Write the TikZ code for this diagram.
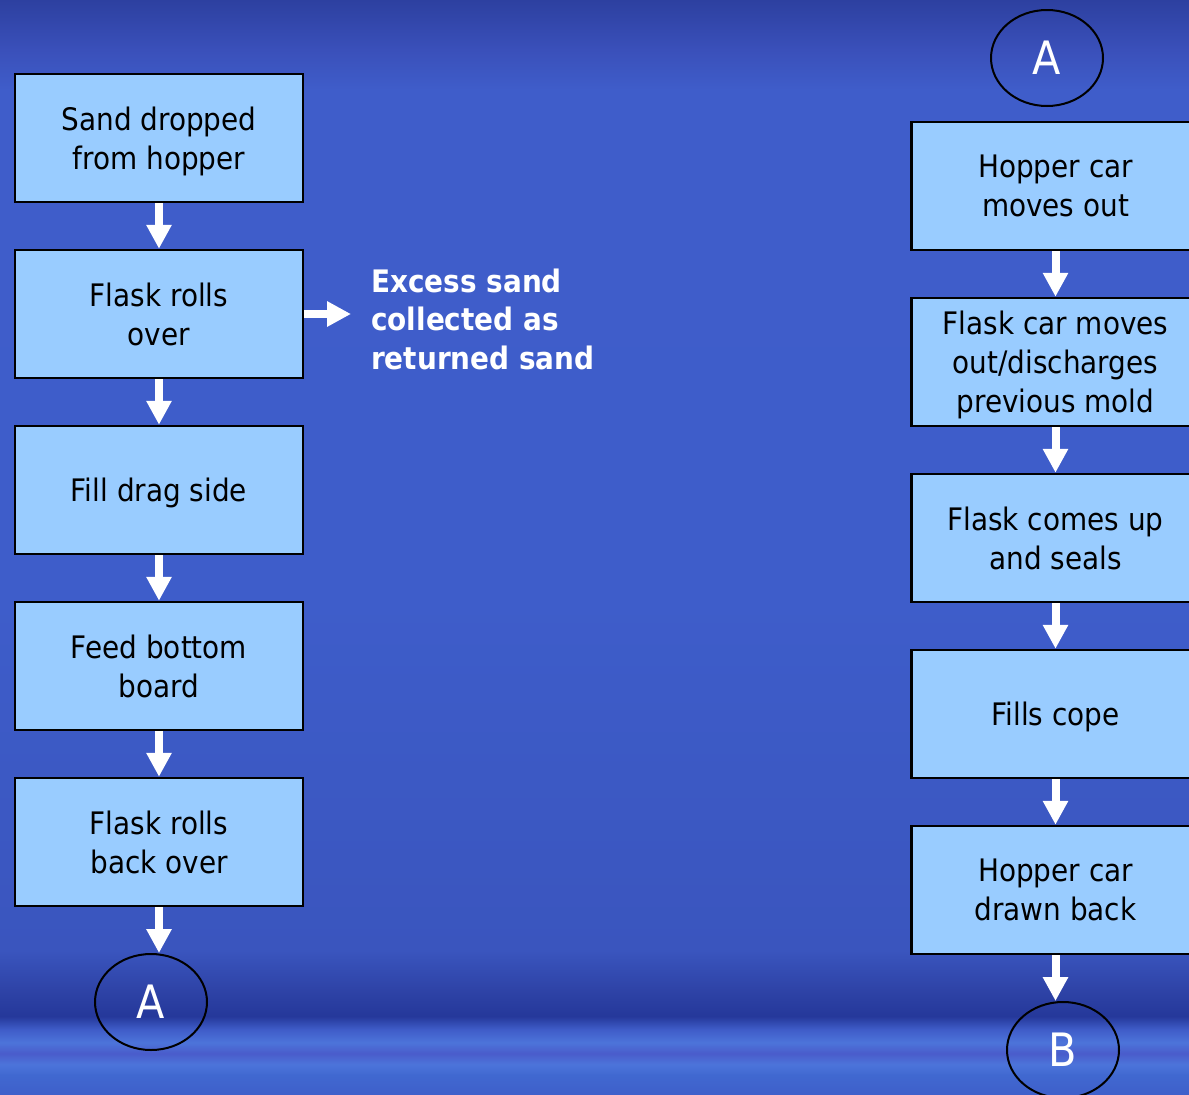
\documentclass[tikz,border=0pt]{standalone}
\usepackage{fontspec}
\setmainfont{DejaVu Sans}[FakeStretch=0.9]
\usetikzlibrary{arrows.meta,shapes.geometric}

\definecolor{boxfill}{HTML}{99CCFF}
% background tones
\definecolor{bgA}{HTML}{3F5FCA}
\definecolor{bgB}{HTML}{4068D0}
\definecolor{bgC}{HTML}{4C74DA}
\definecolor{bgD}{HTML}{4A5CCB}
\definecolor{bgE}{HTML}{3F5CC8}
\definecolor{bgF}{HTML}{25389A}
\definecolor{bgG}{HTML}{2F44A8}
\definecolor{bgH}{HTML}{3A55BE}
\definecolor{bgI}{HTML}{3E5DCA}
\definecolor{bgJ}{HTML}{3F5DCA}
\definecolor{bgK}{HTML}{3A50BA}
\definecolor{bgL}{HTML}{2D40A0}

% background: blue slide gradient, darker at the top, streaked near the bottom
% (the picture's full height maps onto 25bp..75bp of the shading)
\pgfdeclareverticalshading{slidebg}{100bp}{%
  color(0bp)=(bgA);
  color(25bp)=(bgA);
  color(25.9bp)=(bgB);
  color(26.4bp)=(bgC);
  color(26.9bp)=(bgD);
  color(27.4bp)=(bgC);
  color(28.0bp)=(bgE);
  color(28.6bp)=(bgF);
  color(29.9bp)=(bgG);
  color(31.6bp)=(bgH);
  color(47.60bp)=(bgI);
  color(70.89bp)=(bgJ);
  color(72.72bp)=(bgK);
  color(75bp)=(bgL);
  color(100bp)=(bgL)}

\tikzset{
  stepbox/.style={draw=black, line width=2.5pt, fill=boxfill,
    minimum width=288pt, minimum height=128pt, inner sep=0pt,
    align=center, font=\fontsize{31}{39}\selectfont, text=black,
    text depth=0pt},
  tag/.style={ellipse, draw=black, line width=2pt,
    minimum width=112pt, minimum height=96pt, inner sep=0pt,
    text=white, font=\fontsize{46}{46}\selectfont},
  flow/.style={white, line width=8pt,
    -{Triangle[width=24pt,length=24pt]}},
  note/.style={text=white, align=left, inner sep=0pt,
    font=\fontsize{31}{38.5}\selectfont\bfseries}
}

\begin{document}
\begin{tikzpicture}[x=1pt,y=-1pt]
  \clip (0,0) rectangle (1189,1095);
  \shade[shading=slidebg] (0,0) rectangle (1189,1095);

  % left column
  \node[stepbox] (s1) at (159,138) {Sand dropped\\from hopper};
  \node[stepbox] (s2) at (159,314) {Flask rolls\\over};
  \node[stepbox] (s3) at (159,490) {Fill drag side};
  \node[stepbox] (s4) at (159,666) {Feed bottom\\board};
  \node[stepbox] (s5) at (159,842) {Flask rolls\\back over};
  \node[tag] (a1) at (151,1002) {A};

  \node[note, anchor=west] (ex) at (371,319) {Excess sand\\collected as\\returned sand};
  \coordinate (exin) at (351,314);

  % right column
  \node[tag] (a2) at (1047,58) {A};
  \node[stepbox] (r1) at (1055.5,186) {Hopper car\\moves out};
  \node[stepbox] (r2) at (1055.5,362) {Flask car moves\\out/discharges\\previous mold};
  \node[stepbox] (r3) at (1055.5,538) {Flask comes up\\and seals};
  \node[stepbox] (r4) at (1055.5,714) {Fills cope};
  \node[stepbox] (r5) at (1055.5,890) {Hopper car\\drawn back};
  \node[tag] (b1) at (1063,1050) {B};

  % connectors
  \draw[flow] (s1.south) -- (s2.north);
  \draw[flow] (s2.south) -- (s3.north);
  \draw[flow] (s3.south) -- (s4.north);
  \draw[flow] (s4.south) -- (s5.north);
  \draw[flow] (s5.south) -- (s5.south |- a1.north);
  \draw[flow] (s2.east) -- (exin);

  \draw[flow] (r1.south) -- (r2.north);
  \draw[flow] (r2.south) -- (r3.north);
  \draw[flow] (r3.south) -- (r4.north);
  \draw[flow] (r4.south) -- (r5.north);
  \draw[flow] (r5.south) -- (r5.south |- b1.north);
\end{tikzpicture}
\end{document}
